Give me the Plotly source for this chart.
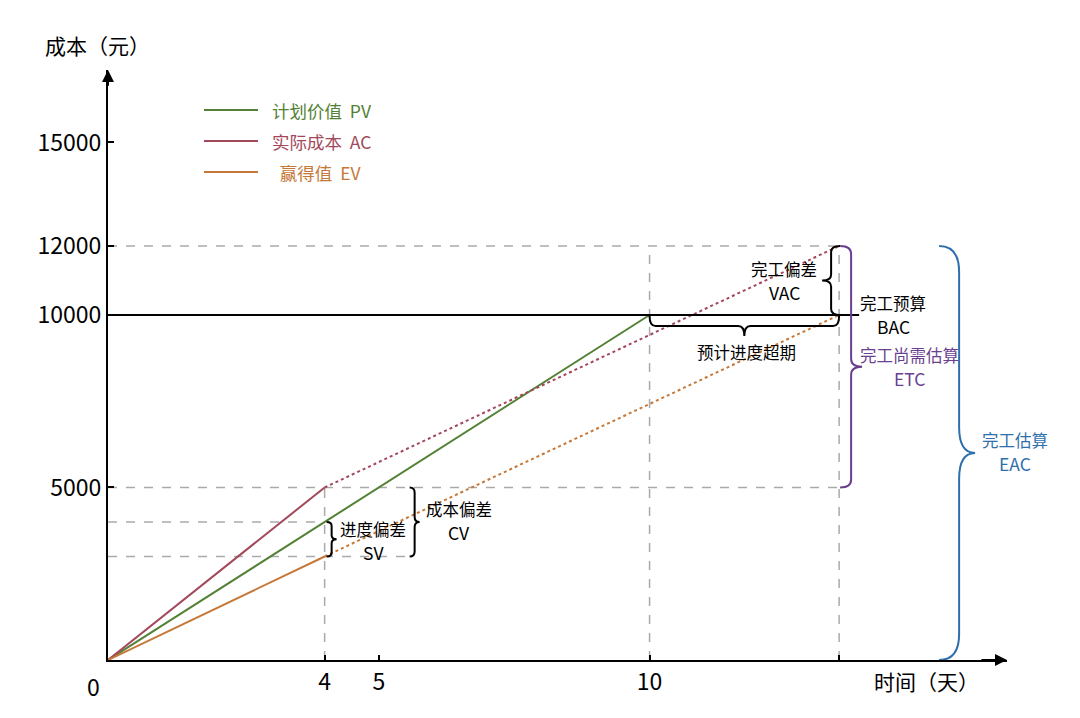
import plotly.graph_objects as go

# ---- data ----
days_pv = [0, 10]
pv_vals = [0, 10000]
days_ac = [0, 4]
ac_vals = [0, 5000]
days_ac_fc = [4, 13.5]
ac_fc_vals = [5000, 12000]
days_ev = [0, 4]
ev_vals = [0, 3000]
days_ev_fc = [4, 13.5]
ev_fc_vals = [3000, 10000]

status_day = 4
plan_end = 10
forecast_end = 13.5
BAC = 10000
EAC = 12000
AC_now = 5000
PV_now = 4000
EV_now = 3000

x_ticks = [4, 5, 10, 13.5]
x_ticklabels = ["4", "5", "10", ""]
y_ticks = [5000, 10000, 12000, 15000]
y_ticklabels = ["5000", "10000", "12000", "15000"]

legend_names = ["计划价值  PV", "实际成本  AC", "  赢得值  EV"]

GREEN = "#538135"
RED = "#A3485B"
ORANGE = "#C67838"
PURPLE = "#6A3F8E"
BLUE = "#2F70AC"
GRAY = "#AAAAAA"
FONT = "Noto Sans CJK SC"

# ---- layout geometry (page has an 8px body margin) ----
OFF = 8
W, H = 1072, 710
L, T = 100, 62
XMAX, YMAX = 16.6, 17100
PW, PH = 899, 590
R = W - L - PW
B = H - T - PH
sx = PW / XMAX
sy = PH / YMAX


def to_px(x, y):
    return OFF + L + x * sx, OFF + T + PH - y * sy


def to_data(px, py):
    return (px - OFF - L) / sx, (OFF + T + PH - py) / sy


def paper(px, py):
    return (px - OFF - L) / PW, (OFF + T + PH - py) / PH


def path_from_px(cmds):
    out = []
    for c in cmds:
        op, pts = c[0], c[1:]
        s = op
        for (px, py) in pts:
            x, y = to_data(px, py)
            s += f" {x:.5f},{y:.3f}"
        out.append(s)
    return " ".join(out)


def brace_v(x_data, y1, y2, off, d1, d2, r):
    bx, a1 = to_px(x_data, max(y1, y2))
    _, a2 = to_px(x_data, min(y1, y2))
    b = bx + off
    am = (a1 + a2) / 2
    cmds = [
        ("M", (b, a1)),
        ("Q", (b + d1, a1), (b + d1, a1 + r)),
        ("L", (b + d1, am - r)),
        ("Q", (b + d1, am), (b + d2, am)),
        ("Q", (b + d1, am), (b + d1, am + r)),
        ("L", (b + d1, a2 - r)),
        ("Q", (b + d1, a2), (b, a2)),
    ]
    return path_from_px(cmds)


def brace_h(x1, x2, y_data, off, d1, d2, r):
    a1, by = to_px(x1, y_data)
    a2, _ = to_px(x2, y_data)
    b = by + off
    am = (a1 + a2) / 2
    cmds = [
        ("M", (a1, b)),
        ("Q", (a1, b + d1), (a1 + r, b + d1)),
        ("L", (am - r, b + d1)),
        ("Q", (am, b + d1), (am, b + d2)),
        ("Q", (am, b + d1), (am + r, b + d1)),
        ("L", (a2 - r, b + d1)),
        ("Q", (a2, b + d1), (a2, b)),
    ]
    return path_from_px(cmds)


fig = go.Figure()

fig.add_trace(go.Scatter(x=days_pv, y=pv_vals, mode="lines",
                         line=dict(color=GREEN, width=2), showlegend=False))
fig.add_trace(go.Scatter(x=days_ac, y=ac_vals, mode="lines",
                         line=dict(color=RED, width=2), showlegend=False))
fig.add_trace(go.Scatter(x=days_ac_fc, y=ac_fc_vals, mode="lines",
                         line=dict(color=RED, width=2, dash="dot"), showlegend=False))
fig.add_trace(go.Scatter(x=days_ev, y=ev_vals, mode="lines",
                         line=dict(color=ORANGE, width=2), showlegend=False))
fig.add_trace(go.Scatter(x=days_ev_fc, y=ev_fc_vals, mode="lines",
                         line=dict(color=ORANGE, width=2, dash="dot"), showlegend=False))

shapes = []
dash = dict(color=GRAY, width=1.5, dash="dash")
shapes.append(dict(type="line", xref="x", yref="y", x0=0, x1=forecast_end, y0=EAC, y1=EAC, line=dash, layer="below"))
shapes.append(dict(type="line", xref="x", yref="y", x0=0, x1=forecast_end, y0=AC_now, y1=AC_now, line=dash, layer="below"))
shapes.append(dict(type="line", xref="x", yref="y", x0=0, x1=status_day, y0=PV_now, y1=PV_now, line=dash, layer="below"))
shapes.append(dict(type="line", xref="x", yref="y", x0=0, x1=status_day + 88 / sx, y0=EV_now, y1=EV_now, line=dash, layer="below"))
shapes.append(dict(type="line", xref="x", yref="y", x0=status_day, x1=status_day, y0=0, y1=AC_now, line=dash, layer="below"))
shapes.append(dict(type="line", xref="x", yref="y", x0=plan_end, x1=plan_end, y0=0, y1=EAC, line=dash, layer="below"))
shapes.append(dict(type="line", xref="x", yref="y", x0=forecast_end, x1=forecast_end, y0=0, y1=EAC, line=dash, layer="below"))
shapes.append(dict(type="line", xref="x", yref="y", x0=0, x1=forecast_end + 20 / sx, y0=BAC, y1=BAC,
                   line=dict(color="black", width=2)))

blk = dict(color="black", width=2)
shapes.append(dict(type="path", xref="x", yref="y", line=blk,
                   path=brace_v(status_day, PV_now, EV_now, 2, 5, 10, 4)))
shapes.append(dict(type="path", xref="x", yref="y", line=blk,
                   path=brace_v(status_day, AC_now, EV_now, 85, 5, 10, 5)))
shapes.append(dict(type="path", xref="x", yref="y", line=blk,
                   path=brace_v(forecast_end, EAC, BAC, 1, -9, -18, 6)))
shapes.append(dict(type="path", xref="x", yref="y", line=blk,
                   path=brace_h(plan_end, forecast_end, BAC, 1, 10, 20, 6)))
shapes.append(dict(type="path", xref="x", yref="y", line=dict(color=PURPLE, width=2),
                   path=brace_v(forecast_end, EAC, AC_now, 1, 11, 22, 8)))
shapes.append(dict(type="path", xref="x", yref="y", line=dict(color=BLUE, width=2),
                   path=brace_v(forecast_end, EAC, 0, 100, 20, 36, 26)))

legend_colors = [GREEN, RED, ORANGE]
annotations = []
for i, (name, col) in enumerate(zip(legend_names, legend_colors)):
    py = 110 + i * 31
    x0, y0 = paper(204, py)
    x1, _ = paper(258, py)
    shapes.append(dict(type="line", xref="paper", yref="paper", x0=x0, x1=x1, y0=y0, y1=y0,
                       line=dict(color=col, width=2)))
    tx, ty = paper(271, py)
    annotations.append(dict(xref="paper", yref="paper", x=tx, y=ty, xanchor="left", yanchor="middle",
                            text=name.replace(" ", "&nbsp;"), showarrow=False, borderpad=0,
                            font=dict(family=FONT, size=17.5, color=col)))


def label(px, py, text, color="black", size=16.5):
    x, y = paper(px, py)
    annotations.append(dict(xref="paper", yref="paper", x=x, y=y, xanchor="center", yanchor="middle",
                            text=text, showarrow=False, align="center", borderpad=0,
                            font=dict(family=FONT, size=size, color=color)))


def label2(px, py_top, cn, en, color="black"):
    label(px, py_top - 1, cn, color, 16.5)
    label(px, py_top + 22, en, color, 17.5)


label2(373, 530, "进度偏差", "SV")
label2(459, 510, "成本偏差", "CV")
label2(784, 270, "完工偏差", "VAC")
label2(893, 304, "完工预算", "BAC")
label(746, 352, "预计进度超期")
label2(909, 356, "完工尚需估算", "ETC", PURPLE)
label2(1015, 441, "完工估算", "EAC", BLUE)
label(97, 45, "成本（元）", size=21)
label(926, 681, "时间（天）", size=21)
label(93, 686, "0", size=23)

annotations.append(dict(xref="x", yref="y", axref="x", ayref="y", x=XMAX, y=0, ax=XMAX - 0.5, ay=0,
                        showarrow=True, arrowhead=2, arrowsize=1.2, arrowwidth=2, arrowcolor="black", text=""))
annotations.append(dict(xref="x", yref="y", axref="x", ayref="y", x=0, y=YMAX, ax=0, ay=YMAX - 500,
                        showarrow=True, arrowhead=2, arrowsize=1.2, arrowwidth=2, arrowcolor="black", text=""))

fig.update_layout(
    width=W, height=H,
    margin=dict(l=L, r=R, t=T, b=B, pad=0),
    paper_bgcolor="white", plot_bgcolor="white",
    shapes=shapes, annotations=annotations,
    font=dict(family=FONT, size=20, color="black"),
    xaxis=dict(range=[0, XMAX], showgrid=False, zeroline=False, showline=True,
               linecolor="black", linewidth=2, ticks="inside", ticklen=5, tickwidth=2,
               tickcolor="black", tickvals=x_ticks, ticktext=x_ticklabels,
               tickfont=dict(family=FONT, size=23, color="black")),
    yaxis=dict(range=[0, YMAX], showgrid=False, zeroline=False, showline=True,
               linecolor="black", linewidth=2, ticks="inside", ticklen=6, tickwidth=2,
               tickcolor="black", tickvals=y_ticks, ticktext=y_ticklabels,
               tickfont=dict(family=FONT, size=23, color="black")),
    showlegend=False,
)

fig.write_html("out.html")
